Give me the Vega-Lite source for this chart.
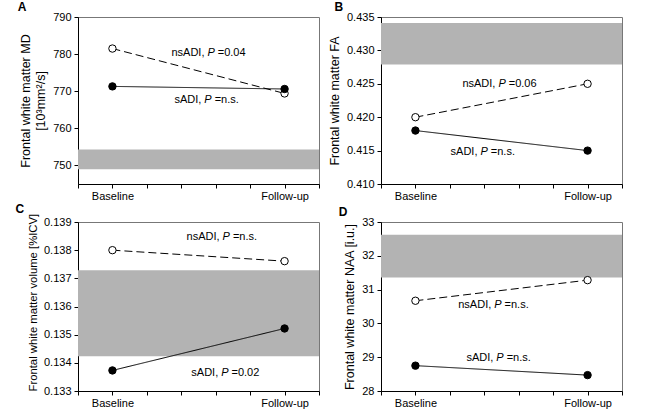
{
  "$schema": "https://vega.github.io/schema/vega-lite/v6.json",
  "padding": {"left": 14, "top": 0, "right": 4, "bottom": 0},
  "background": "white",
  "config": {
    "font": "Liberation Sans",
    "view": {"stroke": "#777777", "strokeWidth": 1},
    "axis": {
      "grid": false,
      "domainColor": "#000000",
      "tickColor": "#000000",
      "labelColor": "#000000",
      "titleColor": "#000000",
      "labelFontSize": 11,
      "titleFontSize": 12.5,
      "titleFontWeight": "normal",
      "titleLineHeight": 15,
      "titlePadding": 5,
      "tickSize": 4,
      "labelPadding": 3
    },
    "title": {"anchor": "start", "frame": "bounds", "fontSize": 12, "fontWeight": "bold", "offset": -3, "color": "#000000"},
    "text": {"fontSize": 11, "baseline": "middle", "color": "#000000"}
  },
  "datasets": {
    "points": [
      {"panel": "A", "group": "nsADI", "t": 1, "v": 781.5},
      {"panel": "A", "group": "nsADI", "t": 6, "v": 769.4},
      {"panel": "A", "group": "sADI", "t": 1, "v": 771.3},
      {"panel": "A", "group": "sADI", "t": 6, "v": 770.6},
      {"panel": "B", "group": "nsADI", "t": 1, "v": 0.420},
      {"panel": "B", "group": "nsADI", "t": 6, "v": 0.425},
      {"panel": "B", "group": "sADI", "t": 1, "v": 0.418},
      {"panel": "B", "group": "sADI", "t": 6, "v": 0.415},
      {"panel": "C", "group": "nsADI", "t": 1, "v": 0.1380},
      {"panel": "C", "group": "nsADI", "t": 6, "v": 0.13761},
      {"panel": "C", "group": "sADI", "t": 1, "v": 0.13373},
      {"panel": "C", "group": "sADI", "t": 6, "v": 0.13522},
      {"panel": "D", "group": "nsADI", "t": 1, "v": 30.67},
      {"panel": "D", "group": "nsADI", "t": 6, "v": 31.28},
      {"panel": "D", "group": "sADI", "t": 1, "v": 28.75},
      {"panel": "D", "group": "sADI", "t": 6, "v": 28.47}
    ],
    "bands": [
      {"panel": "A", "t": 0, "t2": 7, "v": 749.0, "v2": 754.3},
      {"panel": "B", "t": 0, "t2": 7, "v": 0.4279, "v2": 0.4341},
      {"panel": "C", "t": 0, "t2": 7, "v": 0.13423, "v2": 0.13729},
      {"panel": "D", "t": 0, "t2": 7, "v": 31.36, "v2": 32.62}
    ],
    "labels": [
      {"panel": "A", "t": 3.76, "v": 780.3, "pre": "nsADI,", "post": "=0.04"},
      {"panel": "A", "t": 3.67, "v": 767.7, "pre": "sADI,", "post": "=n.s."},
      {"panel": "B", "t": 3.41, "v": 0.4250, "pre": "nsADI,", "post": "=0.06"},
      {"panel": "B", "t": 2.89, "v": 0.4148, "pre": "sADI,", "post": "=n.s."},
      {"panel": "C", "t": 4.2, "v": 0.13846, "pre": "nsADI,", "post": "=n.s."},
      {"panel": "C", "t": 4.16, "v": 0.133645, "pre": "sADI,", "post": "=0.02"},
      {"panel": "D", "t": 3.29, "v": 30.53, "pre": "nsADI,", "post": "=n.s."},
      {"panel": "D", "t": 3.35, "v": 28.98, "pre": "sADI,", "post": "=n.s."}
    ]
  },
  "columns": 2,
  "spacing": {"row": 0, "column": 7},
  "concat": [
    {
      "width": 241,
      "height": 167,
      "title": {"text": "A", "dx": -2},
      "encoding": {
        "x": {"field": "t", "type": "quantitative", "scale": {"domain": [0, 7]}, "axis": {"title": null, "values": [0, 1, 2, 3, 4, 5, 6, 7], "labelExpr": "datum.value == 1 ? 'Baseline' : datum.value == 6 ? 'Follow-up' : ''", "labelPadding": 2}},
        "y": {"field": "v", "type": "quantitative", "scale": {"domain": [745, 790], "nice": false, "zero": false}, "axis": {"title": ["Frontal white matter MD", "[10³mm²/s]"], "values": [750, 760, 770, 780, 790], "format": "d"}}
      },
      "layer": [
        {"data": {"name": "bands"}, "transform": [{"filter": "datum.panel == 'A'"}], "mark": {"type": "rect", "color": "#b3b3b3"}, "encoding": {"x2": {"field": "t2"}, "y2": {"field": "v2"}}},
        {"data": {"name": "points"}, "transform": [{"filter": "datum.panel == 'A'"}], "mark": {"type": "line", "color": "#000000", "strokeWidth": 1}, "encoding": {"detail": {"field": "group"}, "strokeDash": {"field": "group", "scale": {"domain": ["sADI", "nsADI"], "range": [[1, 0], [8, 4]]}, "legend": null}}},
        {"data": {"name": "points"}, "transform": [{"filter": "datum.panel == 'A'"}], "mark": {"type": "point", "shape": "circle", "filled": true, "stroke": "#000000", "strokeWidth": 1, "size": 55, "opacity": 1}, "encoding": {"fill": {"field": "group", "scale": {"domain": ["sADI", "nsADI"], "range": ["#000000", "#ffffff"]}, "legend": null}}},
        {"data": {"name": "labels"}, "transform": [{"filter": "datum.panel == 'A'"}], "mark": {"type": "text", "align": "right", "dx": -3}, "encoding": {"text": {"field": "pre"}}},
        {"data": {"name": "labels"}, "transform": [{"filter": "datum.panel == 'A'"}], "mark": {"type": "text", "align": "left", "text": "P", "fontStyle": "italic"}},
        {"data": {"name": "labels"}, "transform": [{"filter": "datum.panel == 'A'"}], "mark": {"type": "text", "align": "left", "dx": 10.3}, "encoding": {"text": {"field": "post"}}}
      ]
    },
    {
      "width": 241,
      "height": 167,
      "title": {"text": "B", "dx": 6},
      "encoding": {
        "x": {"field": "t", "type": "quantitative", "scale": {"domain": [0, 7]}, "axis": {"title": null, "values": [0, 1, 2, 3, 4, 5, 6, 7], "labelExpr": "datum.value == 1 ? 'Baseline' : datum.value == 6 ? 'Follow-up' : ''", "labelPadding": 2}},
        "y": {"field": "v", "type": "quantitative", "scale": {"domain": [0.41, 0.435], "nice": false, "zero": false}, "axis": {"title": "Frontal white matter FA", "values": [0.41, 0.415, 0.42, 0.425, 0.43, 0.435], "format": ".3f"}}
      },
      "layer": [
        {"data": {"name": "bands"}, "transform": [{"filter": "datum.panel == 'B'"}], "mark": {"type": "rect", "color": "#b3b3b3"}, "encoding": {"x2": {"field": "t2"}, "y2": {"field": "v2"}}},
        {"data": {"name": "points"}, "transform": [{"filter": "datum.panel == 'B'"}], "mark": {"type": "line", "color": "#000000", "strokeWidth": 1}, "encoding": {"detail": {"field": "group"}, "strokeDash": {"field": "group", "scale": {"domain": ["sADI", "nsADI"], "range": [[1, 0], [8, 4]]}, "legend": null}}},
        {"data": {"name": "points"}, "transform": [{"filter": "datum.panel == 'B'"}], "mark": {"type": "point", "shape": "circle", "filled": true, "stroke": "#000000", "strokeWidth": 1, "size": 55, "opacity": 1}, "encoding": {"fill": {"field": "group", "scale": {"domain": ["sADI", "nsADI"], "range": ["#000000", "#ffffff"]}, "legend": null}}},
        {"data": {"name": "labels"}, "transform": [{"filter": "datum.panel == 'B'"}], "mark": {"type": "text", "align": "right", "dx": -3}, "encoding": {"text": {"field": "pre"}}},
        {"data": {"name": "labels"}, "transform": [{"filter": "datum.panel == 'B'"}], "mark": {"type": "text", "align": "left", "text": "P", "fontStyle": "italic"}},
        {"data": {"name": "labels"}, "transform": [{"filter": "datum.panel == 'B'"}], "mark": {"type": "text", "align": "left", "dx": 10.3}, "encoding": {"text": {"field": "post"}}}
      ]
    },
    {
      "width": 241,
      "height": 169,
      "title": {"text": "C", "dx": -12},
      "encoding": {
        "x": {"field": "t", "type": "quantitative", "scale": {"domain": [0, 7]}, "axis": {"title": null, "values": [0, 1, 2, 3, 4, 5, 6, 7], "labelExpr": "datum.value == 1 ? 'Baseline' : datum.value == 6 ? 'Follow-up' : ''", "labelPadding": 2}},
        "y": {"field": "v", "type": "quantitative", "scale": {"domain": [0.133, 0.139], "nice": false, "zero": false}, "axis": {"title": "Frontal white matter volume [%ICV]", "titleFontSize": 11.3, "titleAnchor": "start", "values": [0.133, 0.134, 0.135, 0.136, 0.137, 0.138, 0.139], "format": ".3f"}}
      },
      "layer": [
        {"data": {"name": "bands"}, "transform": [{"filter": "datum.panel == 'C'"}], "mark": {"type": "rect", "color": "#b3b3b3"}, "encoding": {"x2": {"field": "t2"}, "y2": {"field": "v2"}}},
        {"data": {"name": "points"}, "transform": [{"filter": "datum.panel == 'C'"}], "mark": {"type": "line", "color": "#000000", "strokeWidth": 1}, "encoding": {"detail": {"field": "group"}, "strokeDash": {"field": "group", "scale": {"domain": ["sADI", "nsADI"], "range": [[1, 0], [8, 4]]}, "legend": null}}},
        {"data": {"name": "points"}, "transform": [{"filter": "datum.panel == 'C'"}], "mark": {"type": "point", "shape": "circle", "filled": true, "stroke": "#000000", "strokeWidth": 1, "size": 55, "opacity": 1}, "encoding": {"fill": {"field": "group", "scale": {"domain": ["sADI", "nsADI"], "range": ["#000000", "#ffffff"]}, "legend": null}}},
        {"data": {"name": "labels"}, "transform": [{"filter": "datum.panel == 'C'"}], "mark": {"type": "text", "align": "right", "dx": -3}, "encoding": {"text": {"field": "pre"}}},
        {"data": {"name": "labels"}, "transform": [{"filter": "datum.panel == 'C'"}], "mark": {"type": "text", "align": "left", "text": "P", "fontStyle": "italic"}},
        {"data": {"name": "labels"}, "transform": [{"filter": "datum.panel == 'C'"}], "mark": {"type": "text", "align": "left", "dx": 10.3}, "encoding": {"text": {"field": "post"}}}
      ]
    },
    {
      "width": 241,
      "height": 169,
      "title": {"text": "D", "dx": -5},
      "encoding": {
        "x": {"field": "t", "type": "quantitative", "scale": {"domain": [0, 7]}, "axis": {"title": null, "values": [0, 1, 2, 3, 4, 5, 6, 7], "labelExpr": "datum.value == 1 ? 'Baseline' : datum.value == 6 ? 'Follow-up' : ''", "labelPadding": 2}},
        "y": {"field": "v", "type": "quantitative", "scale": {"domain": [28, 33], "nice": false, "zero": false}, "axis": {"title": "Frontal white matter NAA [i.u.]", "values": [28, 29, 30, 31, 32, 33], "format": "d"}}
      },
      "layer": [
        {"data": {"name": "bands"}, "transform": [{"filter": "datum.panel == 'D'"}], "mark": {"type": "rect", "color": "#b3b3b3"}, "encoding": {"x2": {"field": "t2"}, "y2": {"field": "v2"}}},
        {"data": {"name": "points"}, "transform": [{"filter": "datum.panel == 'D'"}], "mark": {"type": "line", "color": "#000000", "strokeWidth": 1}, "encoding": {"detail": {"field": "group"}, "strokeDash": {"field": "group", "scale": {"domain": ["sADI", "nsADI"], "range": [[1, 0], [8, 4]]}, "legend": null}}},
        {"data": {"name": "points"}, "transform": [{"filter": "datum.panel == 'D'"}], "mark": {"type": "point", "shape": "circle", "filled": true, "stroke": "#000000", "strokeWidth": 1, "size": 55, "opacity": 1}, "encoding": {"fill": {"field": "group", "scale": {"domain": ["sADI", "nsADI"], "range": ["#000000", "#ffffff"]}, "legend": null}}},
        {"data": {"name": "labels"}, "transform": [{"filter": "datum.panel == 'D'"}], "mark": {"type": "text", "align": "right", "dx": -3}, "encoding": {"text": {"field": "pre"}}},
        {"data": {"name": "labels"}, "transform": [{"filter": "datum.panel == 'D'"}], "mark": {"type": "text", "align": "left", "text": "P", "fontStyle": "italic"}},
        {"data": {"name": "labels"}, "transform": [{"filter": "datum.panel == 'D'"}], "mark": {"type": "text", "align": "left", "dx": 10.3}, "encoding": {"text": {"field": "post"}}}
      ]
    }
  ]
}
